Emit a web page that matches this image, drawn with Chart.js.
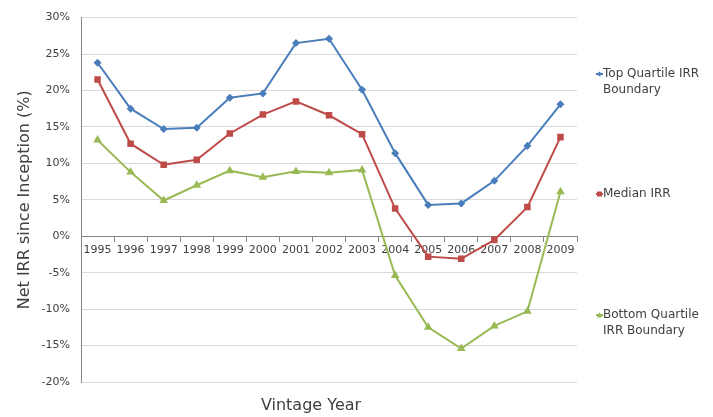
<!DOCTYPE html>
<html>
<head>
<meta charset="utf-8">
<script src="https://cdn.jsdelivr.net/npm/chart.js@4/dist/chart.umd.min.js"></script>
<style>
  html, body { margin: 0; padding: 0; background: #ffffff; }
  #wrap { width: 713px; height: 417px; position: relative; }
</style>
</head>
<body>
<div id="wrap"><canvas id="irr" width="713" height="417"></canvas></div>
<script>
// Vintage years on the category axis
const vintageYears = ['1995','1996','1997','1998','1999','2000','2001','2002','2003','2004','2005','2006','2007','2008','2009'];

// Net IRR since inception, in percent
const topQuartile    = [23.8, 17.5, 14.7, 14.9, 19.0, 19.6, 26.5, 27.1, 20.1, 11.4, 4.3, 4.5, 7.6, 12.4, 18.1];
const medianIRR      = [21.5, 12.7, 9.8, 10.5, 14.1, 16.7, 18.5, 16.6, 14.0, 3.8, -2.8, -3.1, -0.5, 4.0, 13.6];
const bottomQuartile = [13.2, 8.8, 4.9, 7.0, 9.0, 8.1, 8.9, 8.7, 9.1, -5.4, -12.5, -15.4, -12.3, -10.3, 6.1];

const seriesNames = ['Top Quartile IRR Boundary', 'Median IRR', 'Bottom Quartile IRR Boundary'];
const legendLines = [['Top Quartile IRR', 'Boundary'], ['Median IRR'], ['Bottom Quartile', 'IRR Boundary']];

// y-axis range and step (percent)
const yMin = -20, yMax = 30, yStep = 5;

const FONT = "'DejaVu Sans', sans-serif";
const TEXT = '#404040';

// Legend drawn to the right of the plot, entries spread down the side
const sideLegend = {
  id: 'sideLegend',
  afterDraw(chart) {
    const ctx = chart.ctx;
    const x0 = 596;
    const ys = [74, 194, 315];
    ctx.save();
    ctx.font = '12px ' + FONT;
    ctx.textBaseline = 'middle';
    ctx.textAlign = 'left';
    chart.data.datasets.forEach((ds, i) => {
      const y = ys[i];
      ctx.strokeStyle = ds.borderColor;
      ctx.lineWidth = 2;
      ctx.beginPath();
      ctx.moveTo(x0, y);
      ctx.lineTo(x0 + 7, y);
      ctx.stroke();
      ctx.fillStyle = ds.borderColor;
      const r = 2.5;
      ctx.beginPath();
      if (ds.pointStyle === 'rect') {
        ctx.rect(x0 + 3.5 - r, y - r, 2 * r, 2 * r);
      } else if (ds.pointStyle === 'triangle') {
        ctx.moveTo(x0 + 3.5, y - r - 0.5);
        ctx.lineTo(x0 + 3.5 + r, y + r);
        ctx.lineTo(x0 + 3.5 - r, y + r);
        ctx.closePath();
      } else {
        ctx.moveTo(x0 + 3.5, y - r);
        ctx.lineTo(x0 + 3.5 + r, y);
        ctx.lineTo(x0 + 3.5, y + r);
        ctx.lineTo(x0 + 3.5 - r, y);
        ctx.closePath();
      }
      ctx.fill();
      ctx.fillStyle = TEXT;
      legendLines[i].forEach((line, k) => {
        ctx.fillText(line, x0 + 7, y + k * 16);
      });
    });
    ctx.restore();
  }
};

// Category-axis title sits under the plot, below the negative region
const bottomTitle = {
  id: 'bottomTitle',
  afterDraw(chart) {
    const ctx = chart.ctx;
    ctx.save();
    ctx.font = '16px ' + FONT;
    ctx.fillStyle = TEXT;
    ctx.textAlign = 'center';
    ctx.textBaseline = 'middle';
    ctx.fillText('Vintage Year', 311, 406);
    ctx.restore();
  }
};

new Chart(document.getElementById('irr'), {
  type: 'line',
  data: {
    labels: vintageYears,
    datasets: [
      { label: seriesNames[0], data: topQuartile, borderColor: '#4a7ebb', backgroundColor: '#4a7ebb',
        pointStyle: 'rectRot', pointRadius: 2.6, borderWidth: 2, tension: 0 },
      { label: seriesNames[1], data: medianIRR, borderColor: '#be4b48', backgroundColor: '#be4b48',
        pointStyle: 'rect', pointRadius: 3.2, borderWidth: 2, tension: 0 },
      { label: seriesNames[2], data: bottomQuartile, borderColor: '#98b954', backgroundColor: '#98b954',
        pointStyle: 'triangle', pointRadius: 3, borderWidth: 2, tension: 0 }
    ]
  },
  options: {
    responsive: false,
    animation: false,
    layout: { padding: { top: 12, right: 136, bottom: 35, left: 0 } },
    plugins: {
      legend: { display: false },
      tooltip: { enabled: false }
    },
    scales: {
      x: {
        type: 'category',
        position: { y: 0 },
        offset: true,
        grid: { display: true, drawOnChartArea: false, offset: true, tickLength: 5, color: '#868686' },
        border: { color: '#868686', width: 1 },
        ticks: { font: { family: FONT, size: 11 }, color: TEXT, maxRotation: 0, autoSkip: false, padding: 2 }
      },
      y: {
        min: yMin, max: yMax,
        grid: { color: '#d9d9d9', drawTicks: false },
        border: { color: '#868686', width: 1 },
        ticks: { stepSize: yStep, font: { family: FONT, size: 11 }, color: TEXT, padding: 11,
                 callback: v => v + '%' },
        title: { display: true, text: 'Net IRR since Inception (%)', font: { family: FONT, size: 16 },
                 color: TEXT, padding: { top: 15, bottom: 0 } },
        afterFit(scale) { scale.width = 81; }
      }
    }
  },
  plugins: [sideLegend, bottomTitle]
});
</script>
</body>
</html>
